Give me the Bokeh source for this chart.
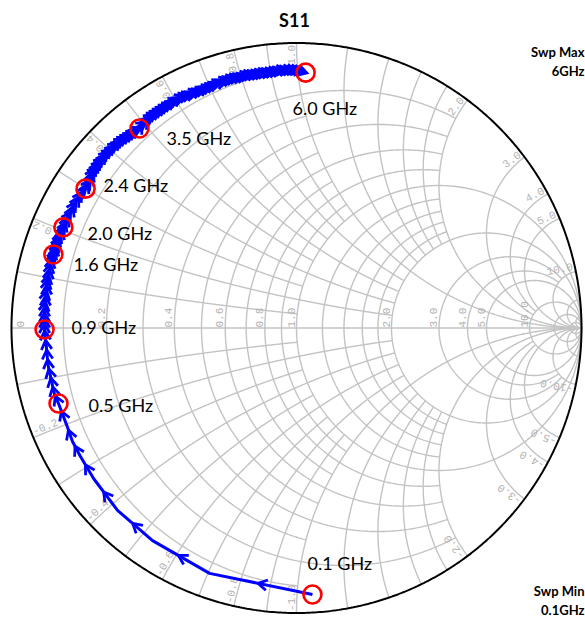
import numpy as np
from bokeh.plotting import figure
from bokeh.models import Range1d
from bokeh.core.properties import value
from bokeh.embed import file_html
from bokeh.resources import INLINE

# ---------------- data ----------------
f_start_ghz, f_step_ghz = 0.10, 0.05
s11_re = [0.056, -0.305, -0.505, -0.628, -0.712, -0.758, -0.786, -0.807, -0.835,
          -0.849, -0.856, -0.863, -0.870, -0.874, -0.877, -0.881, -0.884,
          -0.884, -0.884, -0.884, -0.884, -0.881, -0.881, -0.877, -0.877, -0.874,
          -0.870, -0.867, -0.863, -0.860, -0.853,
          -0.849, -0.846, -0.842, -0.839, -0.835, -0.828, -0.825, -0.818,
          -0.811, -0.804, -0.793, -0.786, -0.775, -0.765, -0.754, -0.740,
          -0.733, -0.726, -0.723, -0.719, -0.712, -0.705, -0.698, -0.691, -0.681,
          -0.674, -0.663, -0.653, -0.642, -0.632, -0.621, -0.611, -0.600, -0.589,
          -0.579, -0.568, -0.561, -0.551,
          -0.544, -0.533, -0.526, -0.516, -0.507, -0.496, -0.486, -0.475, -0.465,
          -0.454, -0.442, -0.432, -0.421, -0.411, -0.398, -0.386, -0.375, -0.363,
          -0.351, -0.339, -0.326, -0.316, -0.304, -0.291, -0.281, -0.268, -0.256,
          -0.244, -0.232, -0.219, -0.207, -0.195, -0.182, -0.170, -0.158, -0.144,
          -0.132, -0.119, -0.107, -0.095, -0.081, -0.068, -0.056, -0.044, -0.032,
          -0.018, -0.005, 0.007, 0.019, 0.032]
s11_im = [-0.935, -0.861, -0.746, -0.640, -0.528, -0.451, -0.398, -0.339, -0.265,
          -0.233, -0.202, -0.170, -0.139, -0.104, -0.072, -0.037, -0.005,
          0.012, 0.033, 0.051, 0.072, 0.089, 0.111, 0.128, 0.149, 0.167,
          0.184, 0.205, 0.223, 0.240, 0.258,
          0.268, 0.282, 0.293, 0.304, 0.314, 0.328, 0.339, 0.353,
          0.370, 0.388, 0.405, 0.423, 0.440, 0.458, 0.475, 0.489,
          0.504, 0.514, 0.528, 0.542, 0.553, 0.563, 0.574, 0.584, 0.595,
          0.605, 0.616, 0.626, 0.637, 0.644, 0.654, 0.661, 0.668, 0.675,
          0.682, 0.689, 0.695, 0.700,
          0.711, 0.718, 0.728, 0.739, 0.746, 0.753, 0.760, 0.767, 0.774,
          0.781, 0.788, 0.795, 0.800, 0.807, 0.812, 0.816, 0.819, 0.825,
          0.828, 0.833, 0.837, 0.842, 0.847, 0.853, 0.858, 0.861, 0.867,
          0.870, 0.874, 0.877, 0.879, 0.882, 0.886, 0.888, 0.889, 0.891,
          0.893, 0.895, 0.896, 0.898, 0.900, 0.902, 0.904, 0.904, 0.905,
          0.905, 0.904, 0.902, 0.900, 0.896]
marker_freqs = [0.1, 0.5, 0.9, 1.6, 2.0, 2.4, 3.5, 6.0]
marker_texts = ["0.1 GHz", "0.5 GHz", "0.9 GHz", "1.6 GHz", "2.0 GHz", "2.4 GHz", "3.5 GHz", "6.0 GHz"]
title_text = "S11"
sweep_texts = ["Swp Max", "6GHz", "Swp Min", "0.1GHz"]

# grid values (Smith chart)
r_label_vals = [0.2, 0.4, 0.6, 0.8, 1.0, 2.0, 3.0, 4.0, 5.0, 10.0]
x_label_vals = [0.2, 0.4, 0.6, 0.8, 1.0, 2.0, 3.0, 4.0, 5.0, 10.0]

# ---------------- layout ----------------
W, H = 585, 620
OFF = 0
CX, CY, R = 296.0, 327.5, 285.0


def g(px, py):
    return (px - CX) / R, (CY - py) / R


p = figure(width=W, height=H,
           x_range=Range1d((OFF - CX) / R, (OFF + W - CX) / R),
           y_range=Range1d((CY - (OFF + H)) / R, (CY - OFF) / R),
           x_axis_type=None, y_axis_type=None, toolbar_location=None,
           output_backend="svg", min_border=0, outline_line_color=None)
p.background_fill_color = "white"
p.border_fill_color = "white"

# ---------------- Smith grid ----------------
GRID = "#c3c3c3"
xs, ys = [], []


def r_line(r, xlim=None, n=700):
    lim = np.arctan(xlim) if xlim is not None else np.pi / 2 * 0.99999
    ph = np.linspace(-lim, lim, n)
    z = r + 1j * np.tan(ph)
    gm = (z - 1) / (z + 1)
    xs.append(list(gm.real)); ys.append(list(gm.imag))


def x_line(x, rlim=None, n=700):
    lim = np.arctan(rlim) if rlim is not None else np.pi / 2 * 0.99999
    ph = np.linspace(0, lim, n)
    z = np.tan(ph) + 1j * x
    gm = (z - 1) / (z + 1)
    xs.append(list(gm.real)); ys.append(list(gm.imag))


for r in [0.1, 0.3, 0.5, 0.7, 0.9]:
    r_line(r, 1.0)
for r in [0.2, 0.4, 0.6, 0.8, 1.2, 1.4, 1.6, 1.8]:
    r_line(r, 2.0)
for r in [3.0, 4.0]:
    r_line(r, 10.0)
for r in [1.0, 2.0, 5.0, 10.0, 20.0, 50.0]:
    r_line(r)
for s in [1, -1]:
    for x in [0.1, 0.3, 0.5, 0.7, 0.9]:
        x_line(s * x, 1.0)
    for x in [0.2, 0.4, 0.6, 0.8, 1.2, 1.4, 1.6, 1.8]:
        x_line(s * x, 2.0)
    for x in [3.0, 4.0]:
        x_line(s * x, 10.0)
    for x in [1.0, 2.0, 5.0, 10.0, 20.0, 50.0]:
        x_line(s * x)
xs.append([-1, 1]); ys.append([0, 0])
p.multi_line(xs, ys, line_color=GRID, line_width=1.4)

t = np.linspace(0, 2 * np.pi, 721)
p.line(np.cos(t), np.sin(t), line_color="black", line_width=2)

# grid labels
LBL = "#b2b2b2"
LFONT = value("Liberation Mono")
d = 2.0 / R
rx = [-1 + 12.0 / R] + [(r - 1) / (r + 1) - d for r in r_label_vals]
rt = ["0"] + ["%.1f" % r for r in r_label_vals]
p.text(x=rx, y=[0.5 / R] * len(rx), text=rt, angle=[np.pi / 2] * len(rx),
       text_font=LFONT, text_font_size="11px", text_color=LBL,
       text_align="left", text_baseline="bottom")

px_, py_, pa_, pt_ = [], [], [], []
nx_, ny_, na_, nt_ = [], [], [], []
for x in x_label_vals:
    th = np.arctan2(2 * x, x * x - 1)
    rad = 1 - 2.0 / R
    px_.append(rad * np.cos(th) + d * np.cos(th + np.pi / 2))
    py_.append(rad * np.sin(th) + d * np.sin(th + np.pi / 2))
    pa_.append(th); pt_.append("%.1f" % x)
    thn = -th
    nx_.append(rad * np.cos(thn) + d * np.cos(thn - np.pi / 2))
    ny_.append(rad * np.sin(thn) + d * np.sin(thn - np.pi / 2))
    na_.append(thn + np.pi); nt_.append("-%.1f" % x)
p.text(x=px_, y=py_, text=pt_, angle=pa_, text_font=LFONT, text_font_size="11px",
       text_color=LBL, text_align="right", text_baseline="bottom")
p.text(x=nx_, y=ny_, text=nt_, angle=na_, text_font=LFONT, text_font_size="11px",
       text_color=LBL, text_align="left", text_baseline="bottom")

# ---------------- trace ----------------
re = np.array(s11_re); im = np.array(s11_im)
assert len(re) == len(im)
freqs = np.round(f_start_ghz + f_step_ghz * np.arange(len(re)), 2)
BLUE = "#0000ff"
p.line(re, im, line_color=BLUE, line_width=3)

L = 10.5 / R
ha = np.deg2rad(30)
axs, ays = [], []
for i in range(len(re) - 1):
    mx, my = (re[i] + re[i + 1]) / 2, (im[i] + im[i + 1]) / 2
    dx, dy = re[i + 1] - re[i], im[i + 1] - im[i]
    nrm = np.hypot(dx, dy)
    ux, uy = dx / nrm, dy / nrm
    tipx, tipy = mx + 0.3 * L * ux, my + 0.3 * L * uy
    w = []
    for sgn in (1, -1):
        c, s = np.cos(sgn * ha), np.sin(sgn * ha)
        vx, vy = ux * c - uy * s, ux * s + uy * c
        w.append((tipx - L * vx, tipy - L * vy))
    axs.append([w[0][0], tipx, w[1][0]]); ays.append([w[0][1], tipy, w[1][1]])
p.multi_line(axs, ays, line_color=BLUE, line_width=2.8, line_join="miter")

# markers
idx = [int(np.argmin(np.abs(freqs - f))) for f in marker_freqs]
p.scatter(re[idx], im[idx], marker="circle", size=18, fill_color=None,
          line_color="#ff0000", line_width=2.6)

# marker labels
lab_pos = [(307, 562), (88, 404), (71, 326), (73, 263), (87, 232), (103, 184), (166, 137), (292, 107)]
lx = [g(a, b)[0] for a, b in lab_pos]
ly = [g(a, b)[1] for a, b in lab_pos]
p.text(x=lx, y=ly, text=marker_texts, text_font=value("Lato"), text_font_size="18px",
       text_color="black", text_align="left", text_baseline="middle")

# title
tx, ty = g(294, 19.5)
p.text(x=[tx], y=[ty], text=[title_text], text_font=value("Lato"), text_font_size="18px",
       text_font_style="bold", text_color="black", text_align="center", text_baseline="middle")

sw_pos = [(584, 51), (584, 70), (584, 590), (584, 609)]
p.text(x=[g(a, b)[0] for a, b in sw_pos], y=[g(a, b)[1] for a, b in sw_pos], text=sweep_texts,
       text_font=value("Lato"), text_font_size="13px", text_font_style="bold",
       text_color="black", text_align="right", text_baseline="middle")

open("out.html", "w").write(file_html(p, INLINE))
